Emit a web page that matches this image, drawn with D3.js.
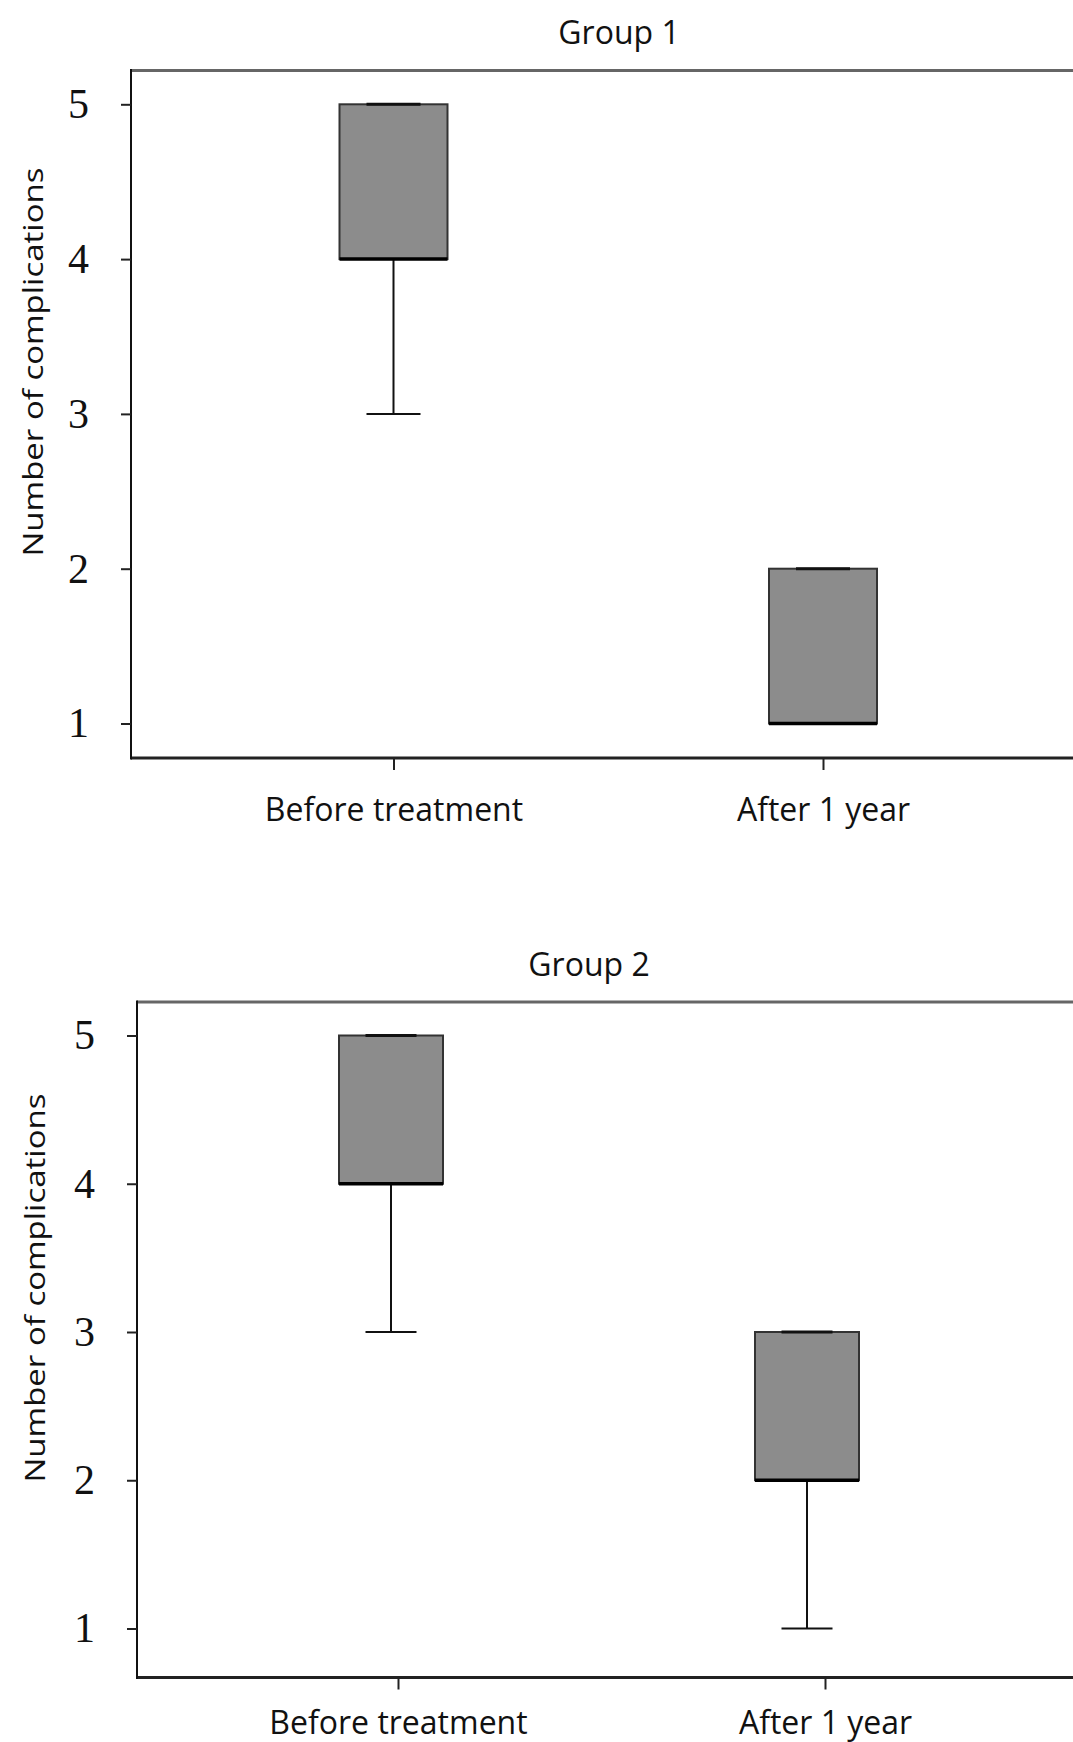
<!DOCTYPE html>
<html>
<head>
<meta charset="utf-8">
<script src="https://cdn.jsdelivr.net/npm/d3@7"></script>
<style>
  html, body { margin: 0; padding: 0; background: #fff; }
  svg { display: block; }
</style>
</head>
<body>
<div id="chart"></div>
<script>
// Categories on the x axis
const categories = ["Before treatment", "After 1 year"];

// Y axis tick values
const yTicks = [1, 2, 3, 4, 5];

// Five-number summaries per category: [min, q1, median, q3, max]
const group1Stats = [
  [3, 4, 4, 5, 5],
  [1, 1, 1, 2, 2]
];
const group2Stats = [
  [3, 4, 4, 5, 5],
  [1, 2, 2, 3, 3]
];

const panelTitles = ["Group 1", "Group 2"];
const yLabel = "Number of complications";

const W = 1073, H = 1742;

// Layout of each panel (pixels)
const panels = [
  {
    title: panelTitles[0], stats: group1Stats,
    titleX: 619, titleY: 44,
    left: 131, top: 70.5, bottom: 758,
    y5: 104.3, y1: 723.5,
    boxRange: [393.5, 823], tickRange: [393.5, 823],
    boxW: 108, capW: 54,
    labelY: 63, yTitleX: 43, yTitleY: 362
  },
  {
    title: panelTitles[1], stats: group2Stats,
    titleX: 589, titleY: 976,
    left: 137, top: 1002, bottom: 1677.5,
    y5: 1035.5, y1: 1628.5,
    boxRange: [391, 807], tickRange: [398, 825],
    boxW: 104, capW: 51,
    labelY: 56, yTitleX: 45, yTitleY: 1288
  }
];

const sansFont = "'Open Sans', sans-serif";
const serifFont = "'Liberation Serif', 'Times New Roman', serif";

const svg = d3.select("#chart").append("svg")
  .attr("width", W).attr("height", H);

panels.forEach(p => {
  const g = svg.append("g");

  const y = d3.scaleLinear().domain([1, 5]).range([p.y1, p.y5]);
  const xBox = d3.scalePoint().domain(categories).range(p.boxRange);
  const xAxisScale = d3.scalePoint().domain(categories).range(p.tickRange);

  // Panel title
  g.append("text")
    .attr("x", p.titleX).attr("y", p.titleY)
    .attr("text-anchor", "middle")
    .attr("font-family", sansFont)
    .attr("font-size", 32)
    .attr("fill", "#111")
    .text(p.title);

  // Plot frame (right side runs past the edge)
  g.append("line")
    .attr("x1", p.left).attr("x2", W + 10)
    .attr("y1", p.top).attr("y2", p.top)
    .attr("stroke", "#666").attr("stroke-width", 3);
  g.append("line")
    .attr("x1", p.left).attr("x2", W + 10)
    .attr("y1", p.bottom).attr("y2", p.bottom)
    .attr("stroke", "#222").attr("stroke-width", 3);
  g.append("line")
    .attr("x1", p.left).attr("x2", p.left)
    .attr("y1", p.top - 1.5).attr("y2", p.bottom + 1.5)
    .attr("stroke", "#111").attr("stroke-width", 2);

  // Y axis
  const yAxis = g.append("g")
    .attr("transform", `translate(${p.left},0)`)
    .call(d3.axisLeft(y).tickValues(yTicks).tickFormat(d3.format("d")).tickSize(10).tickPadding(32));
  yAxis.select(".domain").remove();
  yAxis.selectAll(".tick line").attr("stroke", "#222").attr("stroke-width", 2);
  yAxis.selectAll(".tick text")
    .attr("font-family", serifFont)
    .attr("font-size", 42)
    .attr("fill", "#111");

  // X axis
  const xAxis = g.append("g")
    .attr("transform", `translate(0,${p.bottom})`)
    .call(d3.axisBottom(xAxisScale).tickSize(12).tickPadding(0));
  xAxis.select(".domain").remove();
  xAxis.selectAll(".tick line").attr("stroke", "#222").attr("stroke-width", 2);
  xAxis.selectAll(".tick text")
    .attr("dy", null)
    .attr("y", p.labelY)
    .attr("font-family", sansFont)
    .attr("font-size", 32)
    .attr("fill", "#111");

  // Y axis title (slightly condensed across its height)
  g.append("text")
    .attr("transform", `translate(${p.yTitleX},${p.yTitleY}) rotate(-90) scale(1,0.8)`)
    .attr("text-anchor", "middle")
    .attr("font-family", sansFont)
    .attr("font-size", 33)
    .attr("fill", "#111")
    .text(yLabel);

  // Box plots
  const boxes = g.selectAll(".box")
    .data(p.stats.map((s, i) => ({ cat: categories[i], s })))
    .join("g").attr("class", "box");

  // Lower whisker
  boxes.filter(d => d.s[0] < d.s[1]).append("line")
    .attr("x1", d => xBox(d.cat)).attr("x2", d => xBox(d.cat))
    .attr("y1", d => y(d.s[1])).attr("y2", d => y(d.s[0]))
    .attr("stroke", "#111").attr("stroke-width", 2);
  boxes.filter(d => d.s[0] < d.s[1]).append("line")
    .attr("x1", d => xBox(d.cat) - p.capW / 2).attr("x2", d => xBox(d.cat) + p.capW / 2)
    .attr("y1", d => y(d.s[0])).attr("y2", d => y(d.s[0]))
    .attr("stroke", "#111").attr("stroke-width", 2);

  // Upper whisker
  boxes.filter(d => d.s[4] > d.s[3]).append("line")
    .attr("x1", d => xBox(d.cat)).attr("x2", d => xBox(d.cat))
    .attr("y1", d => y(d.s[3])).attr("y2", d => y(d.s[4]))
    .attr("stroke", "#111").attr("stroke-width", 2);

  // Box body
  boxes.append("rect")
    .attr("x", d => xBox(d.cat) - p.boxW / 2)
    .attr("width", p.boxW)
    .attr("y", d => y(d.s[3]))
    .attr("height", d => y(d.s[1]) - y(d.s[3]))
    .attr("fill", "#8c8c8c")
    .attr("stroke", "#333").attr("stroke-width", 2);

  // Upper cap
  boxes.append("line")
    .attr("x1", d => xBox(d.cat) - p.capW / 2).attr("x2", d => xBox(d.cat) + p.capW / 2)
    .attr("y1", d => y(d.s[4])).attr("y2", d => y(d.s[4]))
    .attr("stroke", "#111").attr("stroke-width", 3);

  // Median
  boxes.append("line")
    .attr("x1", d => xBox(d.cat) - p.boxW / 2).attr("x2", d => xBox(d.cat) + p.boxW / 2)
    .attr("y1", d => y(d.s[2])).attr("y2", d => y(d.s[2]))
    .attr("stroke", "#000").attr("stroke-width", 3.5);
});
</script>
</body>
</html>
